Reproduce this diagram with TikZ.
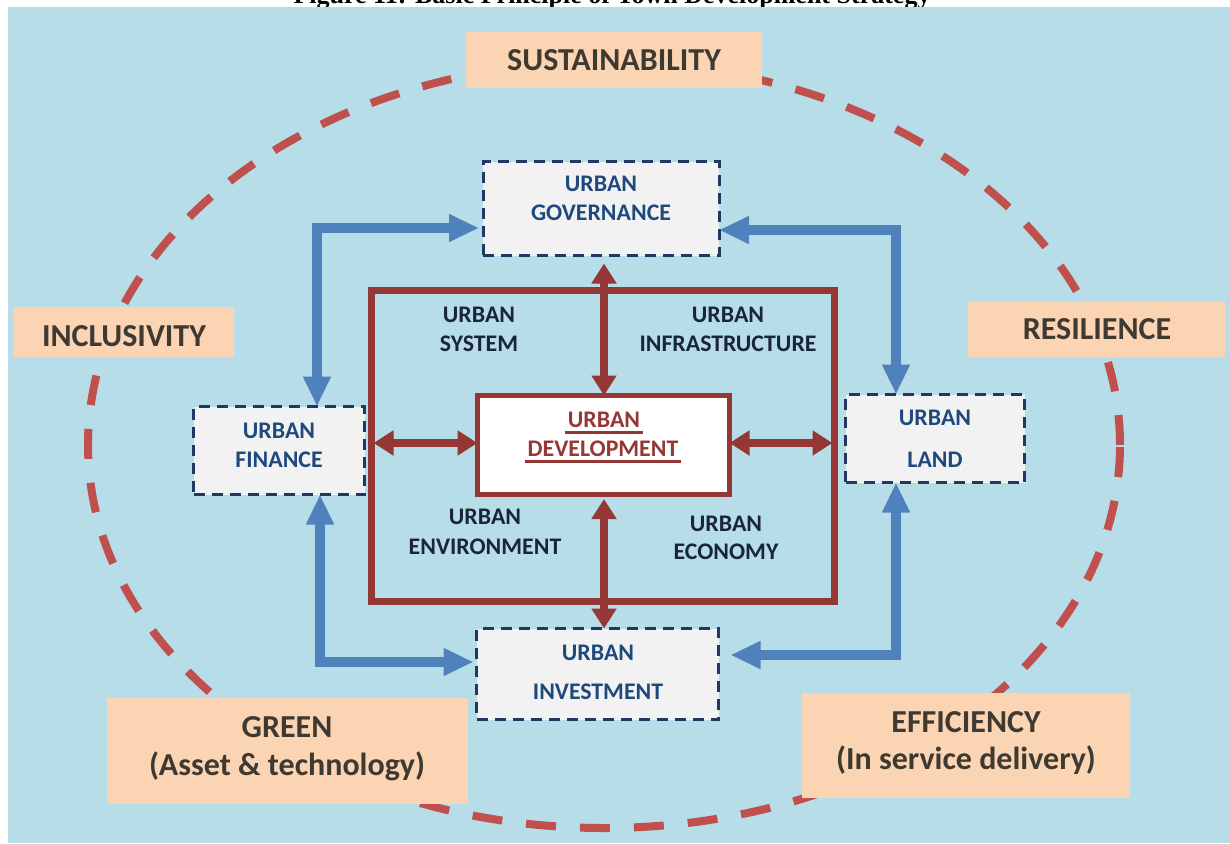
\documentclass[tikz,border=0pt]{standalone}
\usepackage{fontspec}
\setmainfont{Carlito}
\newfontfamily\captionfont{Liberation Serif}
\usetikzlibrary{arrows.meta}
\definecolor{bgblue}{HTML}{B7DDE8}
\definecolor{peachfill}{HTML}{FBD4B4}
\definecolor{peachtext}{HTML}{3E3A32}
\definecolor{ringred}{HTML}{C0504D}
\definecolor{framered}{HTML}{953735}
\definecolor{boxgray}{HTML}{F2F2F2}
\definecolor{navyline}{HTML}{1F3864}
\definecolor{navytext}{HTML}{1F497D}
\definecolor{darktext}{HTML}{1B2538}
\definecolor{arrowblue}{HTML}{4F81BD}
\begin{document}
\begin{tikzpicture}[x=1pt,y=-1pt,
  every node/.style={inner sep=0pt,outer sep=0pt},
  peach/.style={fill=peachfill,draw=none},
  peachtxt/.style={text=peachtext,font=\bfseries\fontsize{32}{38}\selectfont},
  dashbox/.style={draw=navyline,fill=boxgray,line width=3pt,dash pattern=on 11pt off 7pt},
  boxtxt/.style={text=navytext,font=\bfseries\fontsize{23.8}{28}\selectfont},
  frametxt/.style={text=darktext,font=\bfseries\fontsize{23.8}{28}\selectfont},
  devtxt/.style={text=framered,font=\bfseries\fontsize{23.8}{28}\selectfont},
  devline/.style={draw=framered,line width=2.6pt},
  redarrow/.style={draw=framered,line width=8pt,
    arrows={Triangle[length=20pt,width=24pt]-Triangle[length=20pt,width=24pt]}},
  bluearrow/.style={draw=arrowblue,line width=10pt,
    arrows={Triangle[length=30pt,width=26pt]-Triangle[length=30pt,width=26pt]}},
]
\useasboundingbox (0,0) rectangle (1230,843);

% caption line, cut by the page edge
\begin{scope}
  \clip (0,0) rectangle (1230,843);
  \node[font=\captionfont\bfseries\fontsize{26}{30}\selectfont,anchor=base] (title) at (612,4)
    {Figure 11: Basic Principle of Town Development Strategy};
\end{scope}

% background panel
\fill[bgblue] (8,7) rectangle (1230,843);

% dashed principle ring
\draw[ringred,line width=8pt,dash pattern=on 30pt off 24pt] (604,445) ellipse [x radius=516pt,y radius=383pt];

% principle labels
\node[peach,minimum width=296,minimum height=56] (sust) at (614,60) {};
\node[peachtxt] (sustT) at (614,60) {SUSTAINABILITY};
\node[peach,minimum width=220,minimum height=50] (incl) at (124,332) {};
\node[peachtxt] (inclT) at (124,336) {INCLUSIVITY};
\node[peach,minimum width=257,minimum height=56] (resi) at (1096.5,329) {};
\node[peachtxt] (resiT) at (1097,329) {RESILIENCE};
\node[peach,minimum width=361,minimum height=106] (green) at (287.5,751) {};
\node[peachtxt] (greenT) at (287,727) {GREEN};
\node[peachtxt] (greenS) at (287,766) {(Asset \& technology)};
\node[peach,minimum width=328,minimum height=105] (effi) at (966,745.5) {};
\node[peachtxt] (effiT) at (966,722) {EFFICIENCY};
\node[peachtxt] (effiS) at (966,760) {(In service delivery)};

% urban development frame and core
\node[draw=framered,line width=7pt,minimum width=463,minimum height=310.5] (frame) at (603,445.75) {};
\node[draw=framered,fill=white,line width=5pt,minimum width=252,minimum height=98.5] (dev) at (603.5,444.75) {};
\node[devtxt] (devA) at (604,420) {URBAN};
\node[devtxt] (devB) at (603,449) {DEVELOPMENT};
\draw[devline] ([xshift=-3pt,yshift=-4.5pt]devA.south west) -- ([xshift=3pt,yshift=-4.5pt]devA.south east);
\draw[devline] ([xshift=-3pt,yshift=-4.5pt]devB.south west) -- ([xshift=3pt,yshift=-4.5pt]devB.south east);

\node[frametxt] (sysA) at (479,315) {URBAN};
\node[frametxt] (sysB) at (479,344) {SYSTEM};
\node[frametxt] (infA) at (728,315) {URBAN};
\node[frametxt] (infB) at (728,344) {INFRASTRUCTURE};
\node[frametxt] (envA) at (485,517) {URBAN};
\node[frametxt] (envB) at (485,547) {ENVIRONMENT};
\node[frametxt] (ecoA) at (726,524) {URBAN};
\node[frametxt] (ecoB) at (726,552) {ECONOMY};

% surrounding urban components
\node[dashbox,minimum width=236,minimum height=94] (gov) at (601,208.5) {};
\node[boxtxt] (govA) at (601,184) {URBAN};
\node[boxtxt] (govB) at (601,213) {GOVERNANCE};
\node[dashbox,minimum width=171,minimum height=88] (fin) at (279,450.5) {};
\node[boxtxt] (finA) at (279,431) {URBAN};
\node[boxtxt] (finB) at (279,460) {FINANCE};
\node[dashbox,minimum width=179,minimum height=88] (land) at (935,438.5) {};
\node[boxtxt] (landA) at (935,418) {URBAN};
\node[boxtxt] (landB) at (935,460) {LAND};
\node[dashbox,minimum width=242,minimum height=91] (inv) at (597.5,674) {};
\node[boxtxt] (invA) at (598,653) {URBAN};
\node[boxtxt] (invB) at (598,692) {INVESTMENT};

% links between the core and its frame / neighbours
\coordinate (vx) at (604,0);
\draw[redarrow,shorten <=8pt] (gov.south -| vx) -- (dev.north -| vx);
\draw[redarrow,shorten <=5pt] (dev.south -| vx) -- (inv.north -| vx);
\coordinate (hy) at (0,443);
\draw[redarrow,shorten <=2pt] (frame.west |- hy) -- (dev.west |- hy);
\draw[redarrow,shorten >=2pt] (dev.east |- hy) -- (frame.east |- hy);

% feedback loops among the outer components
\coordinate (tl) at (317,228);
\coordinate (tr) at (896,230);
\coordinate (bl) at (320,662);
\coordinate (br) at (896,655);
\draw[bluearrow] (fin.north -| tl) -- (tl) -- ([xshift=-4pt]gov.west |- tl);
\draw[bluearrow] (gov.east |- tr) -- (tr) -- (land.north -| tr);
\draw[bluearrow] (fin.south -| bl) -- (bl) -- ([xshift=-3pt]inv.west |- bl);
\draw[bluearrow,shorten >=12pt] (land.south -| br) -- (br) -- (inv.east |- br);
\end{tikzpicture}
\end{document}
